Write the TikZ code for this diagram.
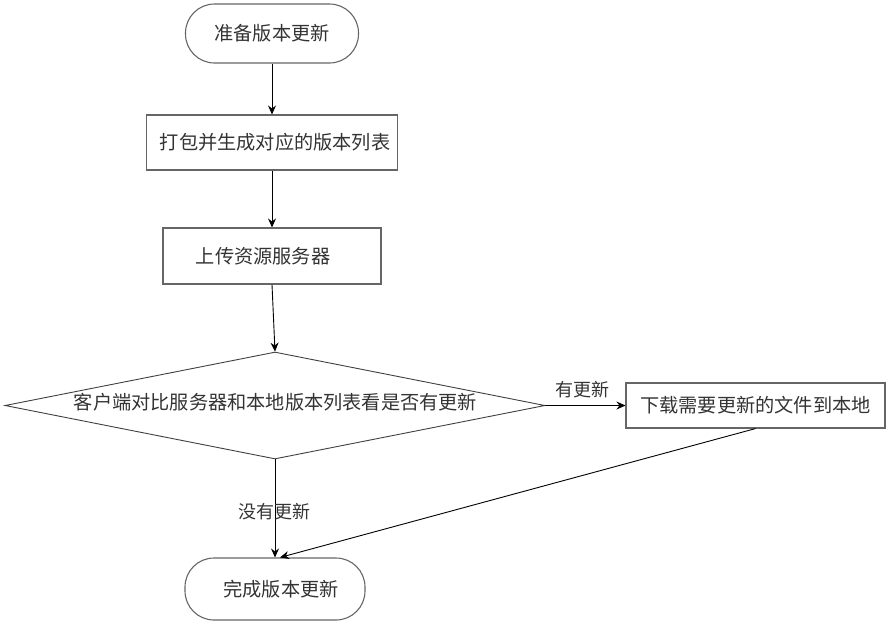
\documentclass[tikz,border=0pt]{standalone}
\usepackage{fontspec}
\newfontfamily\cjk{Noto Sans CJK SC}
\usetikzlibrary{shapes.geometric,arrows.meta}
\begin{document}
\begin{tikzpicture}[x=1pt,y=-1pt,
  every node/.style={font=\cjk\fontsize{19.2}{21}\selectfont, text=black!80, inner sep=0pt},
  shapeline/.style={draw=black!60, line width=1.1pt},
  term/.style={shapeline, rectangle, rounded corners=29pt},
  box/.style={shapeline, rectangle},
  decision/.style={draw=black!75, line width=0.9pt, diamond},
  arr/.style={-{Stealth[length=9pt,width=8pt,inset=3pt]}, line width=0.9pt, draw=black},
  lbl/.style={font=\cjk\fontsize{18}{20}\selectfont}
]
\useasboundingbox (0,0) rectangle (890,625);

\node[term, minimum width=173pt, minimum height=59pt] (t1) at (272,33.5) {准备版本更新};
\node[box, minimum width=251pt, minimum height=55pt] (r2) at (272,142.5) {\hspace*{6pt}打包并生成对应的版本列表};
\node[box, minimum width=218pt, minimum height=56pt] (r3) at (272,256) {\hspace*{-18pt}上传资源服务器};
\node[decision, minimum width=540pt, minimum height=107pt] (dia) at (275,405.5) {};
\node (diat) at (275.5,402) {客户端对比服务器和本地版本列表看是否有更新};
\node[box, minimum width=259pt, minimum height=45pt] (r4) at (755.5,405.5) {下载需要更新的文件到本地};
\node[term, minimum width=180pt, minimum height=62pt] (t2) at (275,589) {\hspace*{12pt}完成版本更新};

\draw[arr] (t1.south) -- (r2.north);
\draw[arr] (r2.south) -- (r3.north);
\draw[arr] (r3.south) -- (dia.north);
\draw[arr] (dia.east) -- (r4.west);
\draw[arr] (dia.south) -- (t2.north);
\draw[arr] (r4.south) -- ([xshift=5pt]t2.north);

\node[lbl] (l1) at (582,390) {有更新};
\node[lbl] (l2) at (274,512) {没有更新};
\end{tikzpicture}
\end{document}
